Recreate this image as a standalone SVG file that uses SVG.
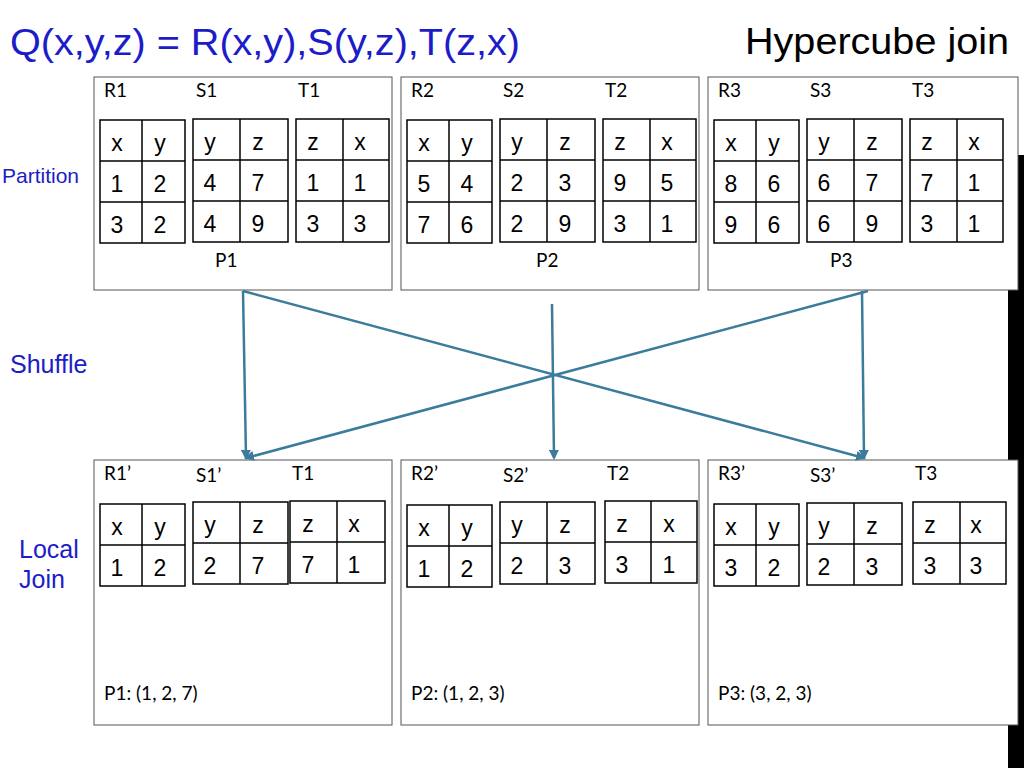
<svg xmlns="http://www.w3.org/2000/svg" width="1024" height="768" viewBox="0 0 1024 768">
<style>
.box{fill:#fff;stroke:#555;stroke-width:1}
.t{fill:#fff;stroke:#000;stroke-width:1.5}
.g{stroke:#000;stroke-width:1.5}
.h{font-family:Lato,"Open Sans",sans-serif;font-size:19px;fill:#000}
.c{font-family:"Liberation Sans",Arial,sans-serif;font-size:23px;fill:#000;text-anchor:middle}
.b{font-family:"Liberation Sans",Arial,sans-serif;fill:#1c1cc8}
.a{stroke:#3b7c9c;stroke-width:2.5;fill:none;marker-end:url(#ar)}
</style>
<defs>
<marker id="ar" markerWidth="10" markerHeight="10" refX="8" refY="5" orient="auto" markerUnits="userSpaceOnUse"><path d="M0,0 L10,5 L0,10 Z" fill="#3b7c9c"/></marker>
</defs>
<rect width="1024" height="768" fill="#fff"/>
<rect x="1008" y="155" width="16" height="613" fill="#000"/>
<text x="10" y="55" class="b" font-size="36" textLength="510" lengthAdjust="spacingAndGlyphs">Q(x,y,z) = R(x,y),S(y,z),T(z,x)</text>
<text x="745" y="54" font-family="Liberation Sans,Arial,sans-serif" font-size="36" fill="#000" textLength="264" lengthAdjust="spacingAndGlyphs">Hypercube join</text>
<text x="2" y="183" class="b" font-size="21">Partition</text>
<text x="10" y="373" class="b" font-size="25">Shuffle</text>
<text x="19" y="558" class="b" font-size="25">Local</text>
<text x="19" y="588" class="b" font-size="25">Join</text>

<g id="top1"><rect class="box" x="94" y="77" width="298" height="213"/>
<text class="h" x="104" y="97">R1</text><text class="h" x="196" y="97">S1</text><text class="h" x="298" y="97">T1</text>
<text class="h" x="215" y="267">P1</text></g>
<g id="top2"><rect class="box" x="401" y="77" width="298" height="213"/>
<text class="h" x="411" y="97">R2</text><text class="h" x="503" y="97">S2</text><text class="h" x="605" y="97">T2</text>
<text class="h" x="536" y="267">P2</text></g>
<g id="top3"><rect class="box" x="708" y="77" width="310" height="213"/>
<text class="h" x="718" y="97">R3</text><text class="h" x="810" y="97">S3</text><text class="h" x="912" y="97">T3</text>
<text class="h" x="830" y="267">P3</text></g>

<g id="bot1"><rect class="box" x="94" y="460" width="298" height="265"/>
<text class="h" x="104" y="480">R1’</text><text class="h" x="196" y="482">S1’</text><text class="h" x="292" y="480">T1</text>
<text class="h" x="104" y="700">P1: (1, 2, 7)</text></g>
<g id="bot2"><rect class="box" x="401" y="460" width="298" height="265"/>
<text class="h" x="411" y="480">R2’</text><text class="h" x="503" y="482">S2’</text><text class="h" x="607" y="480">T2</text>
<text class="h" x="411" y="700">P2: (1, 2, 3)</text></g>
<g id="bot3"><rect class="box" x="708" y="460" width="310" height="265"/>
<text class="h" x="718" y="480">R3’</text><text class="h" x="810" y="482">S3’</text><text class="h" x="915" y="480">T3</text>
<text class="h" x="718" y="700">P3: (3, 2, 3)</text></g>

<g id="tR1"><rect class="t" x="100" y="120" width="85" height="123"/><path class="g" d="M142,120V243M100,161H185M100,202H185"/>
<text class="c" x="117" y="151">x</text><text class="c" x="160" y="151">y</text><text class="c" x="117" y="192">1</text><text class="c" x="160" y="192">2</text><text class="c" x="117" y="233">3</text><text class="c" x="160" y="233">2</text></g>
<g id="tS1"><rect class="t" x="193" y="119" width="95" height="123"/><path class="g" d="M240,119V242M193,160H288M193,201H288"/>
<text class="c" x="210" y="150">y</text><text class="c" x="258" y="150">z</text><text class="c" x="210" y="191">4</text><text class="c" x="258" y="191">7</text><text class="c" x="210" y="232">4</text><text class="c" x="258" y="232">9</text></g>
<g id="tT1"><rect class="t" x="296" y="119" width="93" height="123"/><path class="g" d="M343,119V242M296,160H389M296,201H389"/>
<text class="c" x="313" y="150">z</text><text class="c" x="360" y="150">x</text><text class="c" x="313" y="191">1</text><text class="c" x="360" y="191">1</text><text class="c" x="313" y="232">3</text><text class="c" x="360" y="232">3</text></g>

<g id="tR2"><rect class="t" x="407" y="120" width="85" height="123"/><path class="g" d="M449,120V243M407,161H492M407,202H492"/>
<text class="c" x="424" y="151">x</text><text class="c" x="467" y="151">y</text><text class="c" x="424" y="192">5</text><text class="c" x="467" y="192">4</text><text class="c" x="424" y="233">7</text><text class="c" x="467" y="233">6</text></g>
<g id="tS2"><rect class="t" x="500" y="119" width="95" height="123"/><path class="g" d="M547,119V242M500,160H595M500,201H595"/>
<text class="c" x="517" y="150">y</text><text class="c" x="565" y="150">z</text><text class="c" x="517" y="191">2</text><text class="c" x="565" y="191">3</text><text class="c" x="517" y="232">2</text><text class="c" x="565" y="232">9</text></g>
<g id="tT2"><rect class="t" x="603" y="119" width="93" height="123"/><path class="g" d="M650,119V242M603,160H696M603,201H696"/>
<text class="c" x="620" y="150">z</text><text class="c" x="667" y="150">x</text><text class="c" x="620" y="191">9</text><text class="c" x="667" y="191">5</text><text class="c" x="620" y="232">3</text><text class="c" x="667" y="232">1</text></g>

<g id="tR3"><rect class="t" x="714" y="120" width="85" height="123"/><path class="g" d="M756,120V243M714,161H799M714,202H799"/>
<text class="c" x="731" y="151">x</text><text class="c" x="774" y="151">y</text><text class="c" x="731" y="192">8</text><text class="c" x="774" y="192">6</text><text class="c" x="731" y="233">9</text><text class="c" x="774" y="233">6</text></g>
<g id="tS3"><rect class="t" x="807" y="119" width="95" height="123"/><path class="g" d="M854,119V242M807,160H902M807,201H902"/>
<text class="c" x="824" y="150">y</text><text class="c" x="872" y="150">z</text><text class="c" x="824" y="191">6</text><text class="c" x="872" y="191">7</text><text class="c" x="824" y="232">6</text><text class="c" x="872" y="232">9</text></g>
<g id="tT3"><rect class="t" x="910" y="119" width="93" height="123"/><path class="g" d="M957,119V242M910,160H1003M910,201H1003"/>
<text class="c" x="927" y="150">z</text><text class="c" x="974" y="150">x</text><text class="c" x="927" y="191">7</text><text class="c" x="974" y="191">1</text><text class="c" x="927" y="232">3</text><text class="c" x="974" y="232">1</text></g>

<g id="bR1"><rect class="t" x="100" y="504" width="85" height="82"/><path class="g" d="M142,504V586M100,545H185"/>
<text class="c" x="117" y="535">x</text><text class="c" x="160" y="535">y</text><text class="c" x="117" y="576">1</text><text class="c" x="160" y="576">2</text></g>
<g id="bS1"><rect class="t" x="193" y="502" width="95" height="82"/><path class="g" d="M240,502V584M193,543H288"/>
<text class="c" x="210" y="533">y</text><text class="c" x="258" y="533">z</text><text class="c" x="210" y="574">2</text><text class="c" x="258" y="574">7</text></g>
<g id="bT1"><rect class="t" x="290" y="501" width="95" height="82"/><path class="g" d="M337,501V583M290,542H385"/>
<text class="c" x="308" y="532">z</text><text class="c" x="354" y="532">x</text><text class="c" x="308" y="573">7</text><text class="c" x="354" y="573">1</text></g>

<g id="bR2"><rect class="t" x="407" y="505" width="85" height="82"/><path class="g" d="M449,505V587M407,546H492"/>
<text class="c" x="424" y="536">x</text><text class="c" x="467" y="536">y</text><text class="c" x="424" y="577">1</text><text class="c" x="467" y="577">2</text></g>
<g id="bS2"><rect class="t" x="500" y="502" width="95" height="82"/><path class="g" d="M547,502V584M500,543H595"/>
<text class="c" x="517" y="533">y</text><text class="c" x="565" y="533">z</text><text class="c" x="517" y="574">2</text><text class="c" x="565" y="574">3</text></g>
<g id="bT2"><rect class="t" x="605" y="501" width="92" height="82"/><path class="g" d="M651,501V583M605,542H697"/>
<text class="c" x="622" y="532">z</text><text class="c" x="669" y="532">x</text><text class="c" x="622" y="573">3</text><text class="c" x="669" y="573">1</text></g>

<g id="bR3"><rect class="t" x="714" y="504" width="85" height="82"/><path class="g" d="M756,504V586M714,545H799"/>
<text class="c" x="731" y="535">x</text><text class="c" x="774" y="535">y</text><text class="c" x="731" y="576">3</text><text class="c" x="774" y="576">2</text></g>
<g id="bS3"><rect class="t" x="807" y="503" width="95" height="82"/><path class="g" d="M854,503V585M807,544H902"/>
<text class="c" x="824" y="534">y</text><text class="c" x="872" y="534">z</text><text class="c" x="824" y="575">2</text><text class="c" x="872" y="575">3</text></g>
<g id="bT3"><rect class="t" x="913" y="502" width="93" height="82"/><path class="g" d="M960,502V584M913,543H1006"/>
<text class="c" x="930" y="533">z</text><text class="c" x="976" y="533">x</text><text class="c" x="930" y="574">3</text><text class="c" x="976" y="574">3</text></g>

<g id="connectors">
<path class="a" d="M243,291L246,458"/>
<path class="a" d="M243,291L864,458"/>
<path class="a" d="M552,304L554,458"/>
<path class="a" d="M868,291L246,458"/>
<path class="a" d="M862,291L864,458"/>
</g>
</svg>
